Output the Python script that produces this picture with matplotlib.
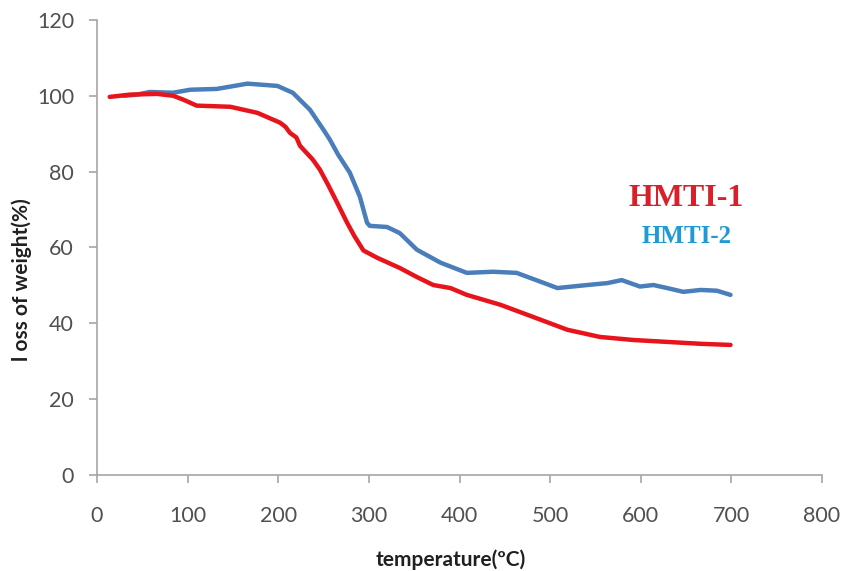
import matplotlib
matplotlib.use("Agg")
import matplotlib.pyplot as plt

# HMTI-1 (red)
t1 = [14, 36, 66, 84, 95, 110, 147, 177, 202, 208, 213, 220, 224, 238, 246, 255, 265, 276, 284, 294,
      309, 334, 353, 371, 390, 408, 445, 481, 519, 555, 592, 629, 666, 699]
w1 = [99.7, 100.3, 100.5, 100.0, 99.0, 97.4, 97.1, 95.5, 92.9, 91.8, 90.2, 89.0, 86.8, 83.2, 80.5, 76.5,
      71.8, 66.5, 63.0, 59.2, 57.3, 54.6, 52.2, 50.1, 49.3, 47.5, 44.9, 41.7, 38.3, 36.4, 35.6, 35.1,
      34.6, 34.3]

# HMTI-2 (blue)
t2 = [30, 44, 58, 84, 103, 132, 166, 199, 216, 235, 250, 257, 266, 279, 290, 298, 301, 320, 334, 353,
      379, 408, 437, 463, 489, 508, 541, 563, 579, 599, 614, 629, 647, 666, 684, 699]
w2 = [100.0, 100.3, 101.0, 100.8, 101.6, 101.8, 103.2, 102.6, 100.8, 96.3, 91.0, 88.4, 84.5, 79.7, 73.4,
      66.5, 65.7, 65.4, 63.8, 59.4, 56.0, 53.3, 53.6, 53.3, 51.0, 49.3, 50.1, 50.6, 51.4, 49.7, 50.1,
      49.3, 48.3, 48.8, 48.6, 47.5]

xticks = [0, 100, 200, 300, 400, 500, 600, 700, 800]
yticks = [0, 20, 40, 60, 80, 100, 120]

fig = plt.figure(figsize=(8.48, 5.71), dpi=100)
ax = fig.add_axes([0.1144, 0.1681, 0.855, 0.797])

ax.plot(t2, w2, color="#4a7ebb", lw=3.2, solid_capstyle="round", solid_joinstyle="round")
ax.plot(t1, w1, color="#e8141b", lw=3.2, solid_capstyle="round", solid_joinstyle="round")

ax.set_xlim(0, 800)
ax.set_ylim(0, 120)
ax.set_xticks(xticks)
ax.set_yticks(yticks)

for s in ["top", "right"]:
    ax.spines[s].set_visible(False)
for s in ["left", "bottom"]:
    ax.spines[s].set_color("#a6a6a6")
    ax.spines[s].set_linewidth(1.2)
ax.tick_params(direction="out", length=5.5, color="#a6a6a6", width=1.2,
               labelsize=15.5, labelcolor="#505050")
ax.tick_params(axis="x", pad=17)
ax.tick_params(axis="y", pad=11)
for lab in ax.get_xticklabels() + ax.get_yticklabels():
    lab.set_family("Lato")

ax.set_xlabel("temperature(ºC)", fontsize=15, fontweight="bold", family="Lato",
              color="#202020")
ax.xaxis.set_label_coords(0.488, -0.163)
ax.set_ylabel("l oss of weight(%)", fontsize=15, fontweight="bold", family="Lato",
              color="#202020")
ax.yaxis.set_label_coords(-0.09, 0.43)

ax.text(650, 72.8, "HMTI-1", color="#d9202a", fontsize=23, fontweight="bold",
        family="Liberation Serif", ha="center", va="center")
ax.text(651, 62.8, "HMTI-2", color="#1f9ad6", fontsize=18, fontweight="bold",
        family="Liberation Serif", ha="center", va="center")

fig.savefig("out.png", dpi=100)
